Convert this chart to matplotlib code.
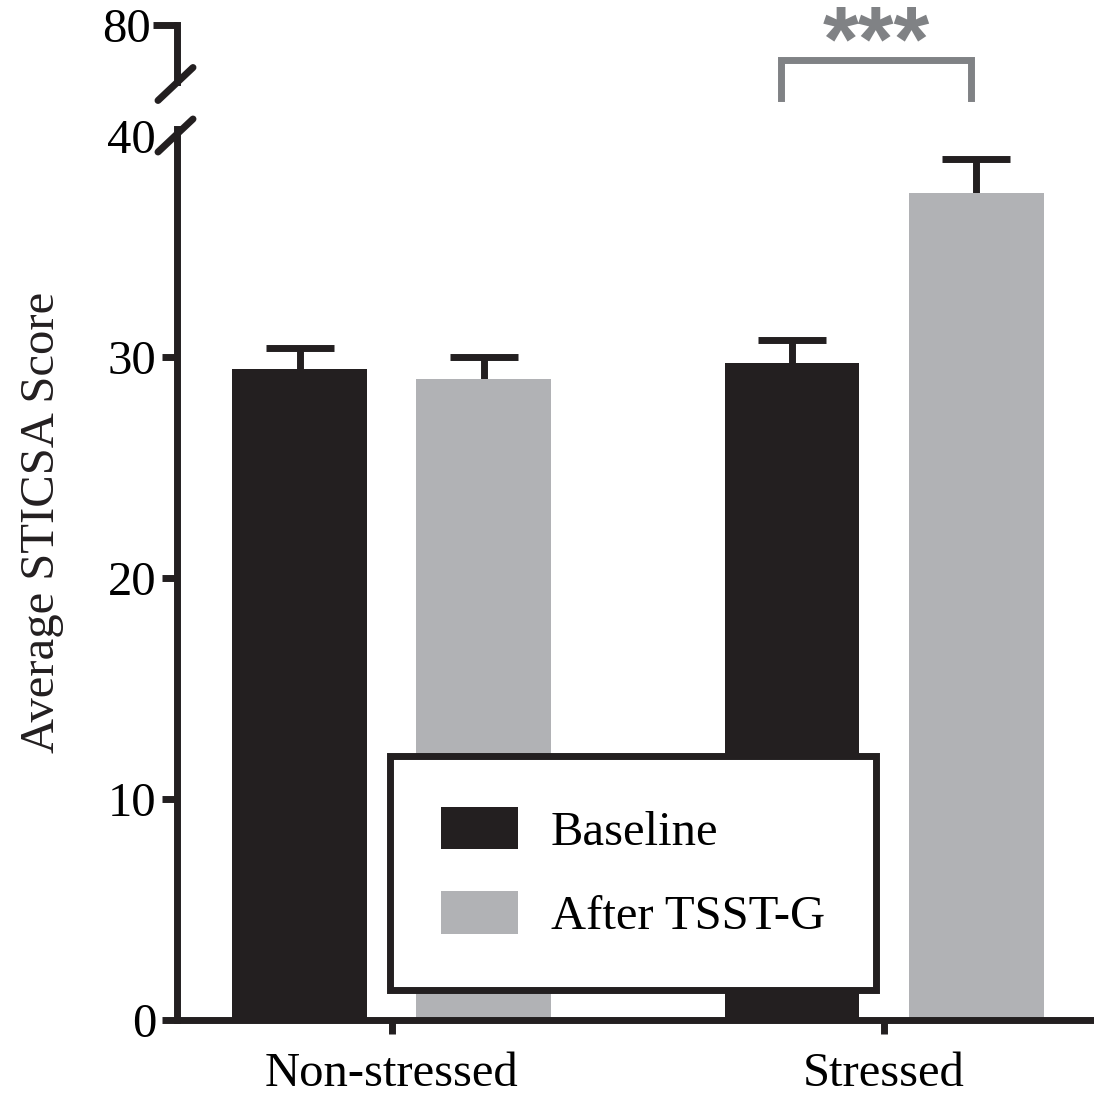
import numpy as np
import matplotlib
matplotlib.use('Agg')
from matplotlib import pyplot as plt
from matplotlib.patches import Patch
from matplotlib.lines import Line2D

plt.rcParams['font.family'] = ['Liberation Serif', 'DejaVu Serif']

groups = ['Non-stressed', 'Stressed']
series = ['Baseline', 'After TSST-G']
baseline = [29.45, 29.75]
baseline_err = [0.95, 1.0]
after = [29.0, 37.4]
after_err = [1.0, 1.55]
yticks = [0, 10, 20, 30, 40]

black = '#231f20'
grey = '#b1b2b5'
sig_grey = '#808285'
fs = 35
lw = 5

fig = plt.figure(figsize=(10.94, 10.98), dpi=100)
W, H = 1094., 1098.

# lower (main) axes, 0..40
ax = fig.add_axes([177 / W, 78 / H, 1 - 177 / W, (1020 - 129.4) / H])
# small upper axes holding the 80 tick
ax_top = fig.add_axes([177 / W, (H - 82) / H, 0.05, 57 / H])

x = np.arange(len(groups))
w = 0.274
off = 0.187

ax.bar(x - off, baseline, w, color=black, label=series[0], zorder=1)
ax.bar(x + off, after, w, color=grey, label=series[1], zorder=1)
for xs, vals, errs in [(x - off, baseline, baseline_err), (x + off, after, after_err)]:
    _, caps, _ = ax.errorbar(xs, vals, yerr=[np.zeros(2), errs], fmt='none',
                             ecolor=black, elinewidth=lw, capsize=24.8,
                             capthick=lw, zorder=0.5)
    caps[0].set_visible(False)

ax.set_xlim(-0.4365, 1.4265)
ax.set_ylim(0, 40.3)
ax.set_yticks(yticks)
ax.set_xticks(x)
ax.set_xticklabels(groups)
for s in ['top', 'right']:
    ax.spines[s].set_visible(False)
for s in ['left', 'bottom']:
    ax.spines[s].set_linewidth(lw)
    ax.spines[s].set_color(black)
ax.tick_params(axis='y', direction='out', length=11, width=lw, color=black,
               labelsize=fs, pad=4)
ax.tick_params(axis='x', direction='out', length=10, width=lw, color=black,
               labelsize=fs, pad=13)
ax.yaxis.get_major_ticks()[-1].tick1line.set_visible(False)

ax_top.patch.set_visible(False)
ax_top.set_ylim(76, 80)
ax_top.set_yticks([80])
ax_top.set_xticks([])
for s in ['top', 'right', 'bottom']:
    ax_top.spines[s].set_visible(False)
ax_top.spines['left'].set_linewidth(lw)
ax_top.spines['left'].set_color(black)
ax_top.tick_params(axis='y', direction='out', length=17, width=lw, color=black,
                   labelsize=fs, pad=2)

# break marks
for cx, cy in [(175.5, 135.5), (175.5, 84)]:
    fig.add_artist(Line2D([(cx - 17.5) / W, (cx + 17.5) / W],
                          [1 - (cy + 16.5) / H, 1 - (cy - 16.5) / H],
                          color=black, lw=lw, solid_capstyle='round'))

# significance bracket
xl = x[1] - off - 0.022
xr = x[1] + off - 0.01
ax.plot([xl, xl, xr, xr], [41.7, 43.45, 43.45, 41.7], color=sig_grey, lw=lw,
        clip_on=False, solid_joinstyle='miter')
ax.text((xl + xr) / 2, 42.1, '***', ha='center', va='bottom', color=sig_grey,
        fontsize=66, fontweight='bold', family='Liberation Sans', clip_on=False)

fig.text(42 / W, 1 - 522 / H, 'Average STICSA Score', rotation=90,
         ha='center', va='center', fontsize=fs, color=black)

handles = [Patch(facecolor=black, label=series[0]),
           Patch(facecolor=grey, label=series[1])]
leg = ax.legend(handles=handles, loc='center',
                bbox_to_anchor=(633 / W, 1 - 873 / H),
                bbox_transform=fig.transFigure, fontsize=fs, frameon=True,
                fancybox=False, framealpha=1, handlelength=1.58,
                handleheight=0.97, handletextpad=0.68, labelspacing=0.75,
                borderpad=1.05)
leg.get_frame().set_edgecolor(black)
leg.get_frame().set_linewidth(lw)
leg.set_zorder(5)

fig.savefig('out.png', dpi=100)
